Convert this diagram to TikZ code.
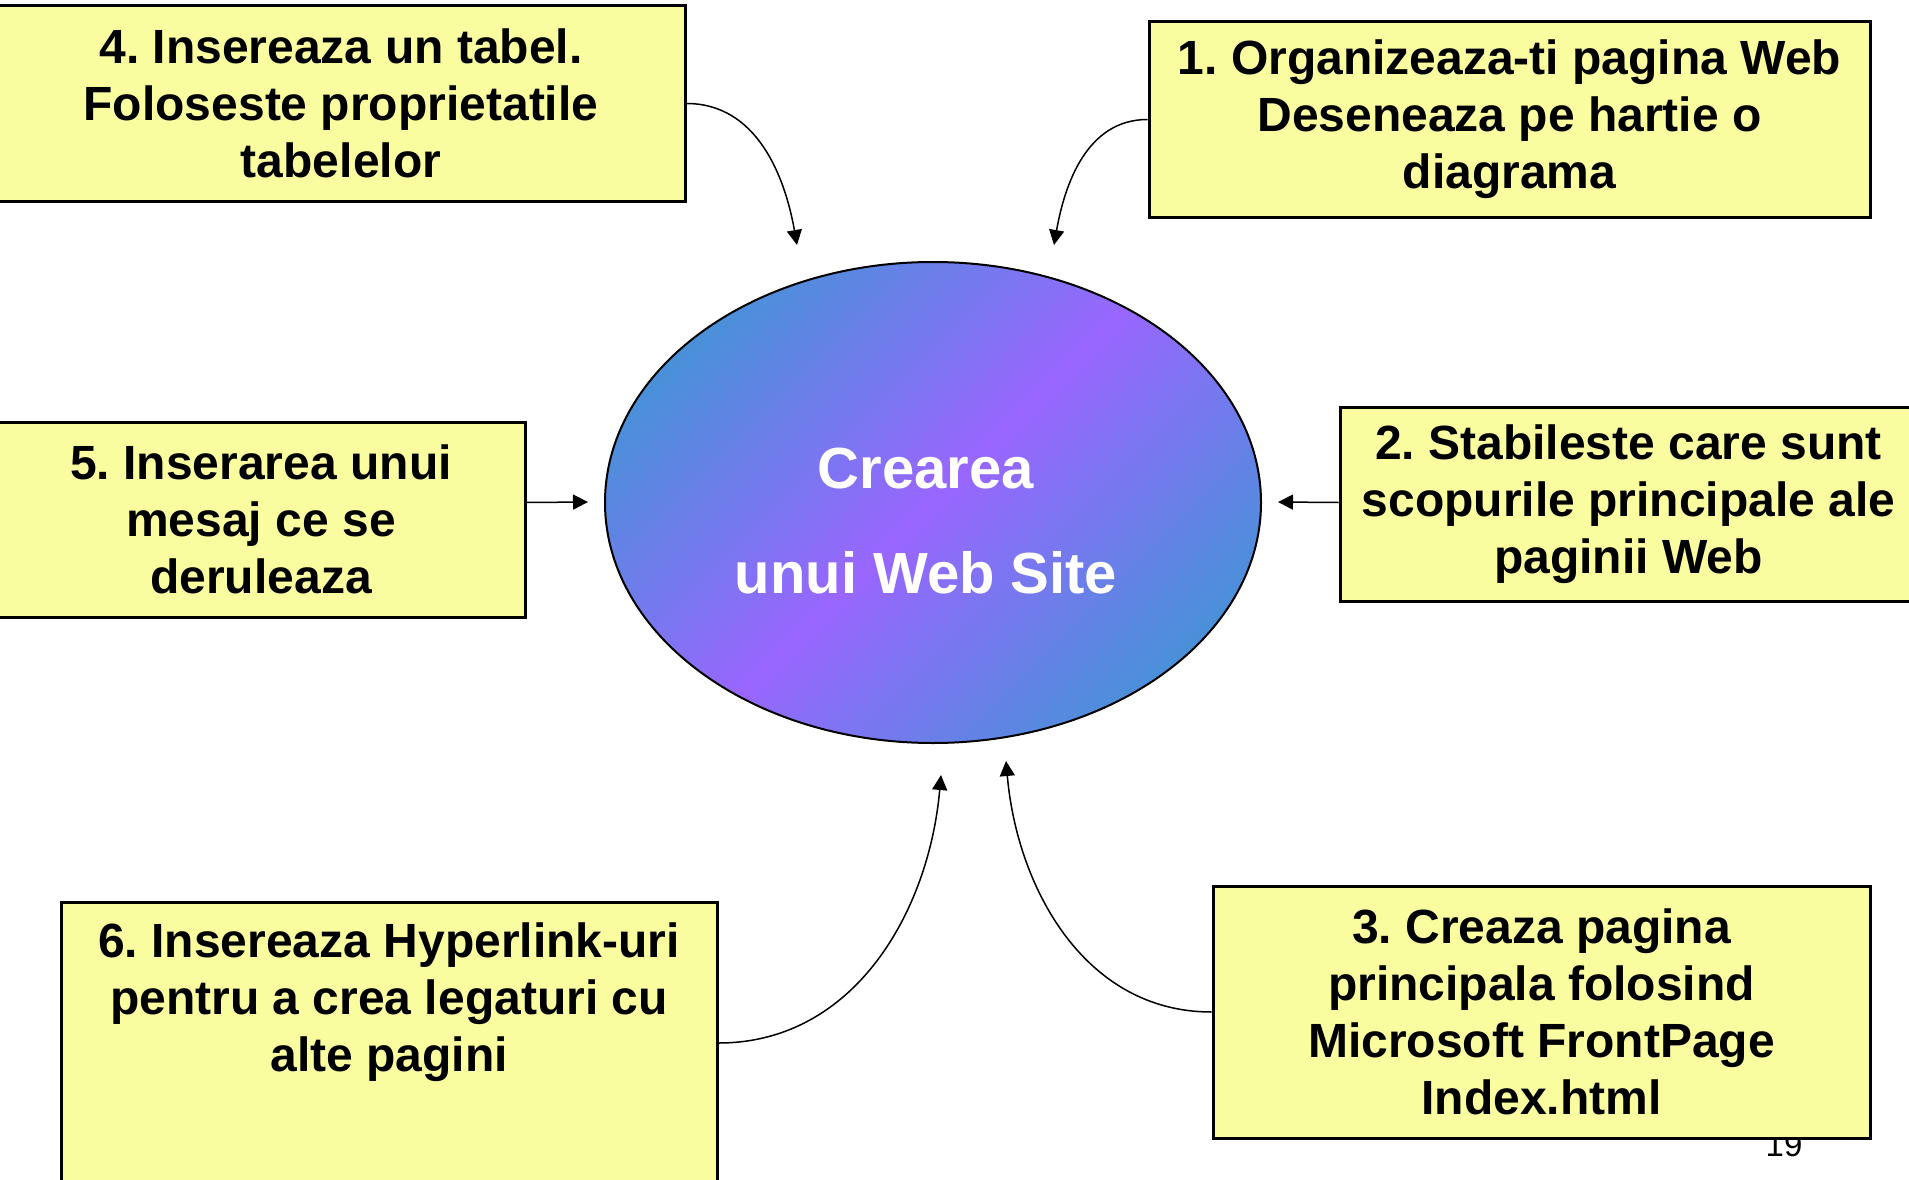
\documentclass[tikz,border=0pt]{standalone}
\usepackage{fontspec}
\setmainfont{Liberation Sans}
\frenchspacing
\usetikzlibrary{arrows.meta, shapes.geometric}
\definecolor{notepad}{RGB}{250,252,160}
\definecolor{hubblue}{RGB}{74,144,217}
\definecolor{hubviolet}{RGB}{153,102,255}

\begin{document}
\begin{tikzpicture}[
  x=1pt, y=1pt,
  font=\fontsize{48}{57}\selectfont\bfseries,
  box/.style={draw, line width=3pt, fill=notepad, align=center, inner sep=0pt},
  hub/.style={ellipse, draw, line width=2pt, inner sep=0pt,
    top color=hubblue, bottom color=hubblue, middle color=hubviolet, shading angle=45},
  hubtext/.style={align=center, text=white, font=\fontsize{58}{105}\selectfont\bfseries},
  flow/.style={-{Triangle[length=15pt, width=15pt]}, line width=1.5pt}
]
\useasboundingbox (0,-1180) rectangle (1909,0);
\node[hub, minimum width=656, minimum height=481] (site) at (933,-502.5) {};
\node[hubtext] (title) at ([shift={(-7,-19)}]site.center) {Crearea\\unui Web Site};
\node[box, minimum width=688, minimum height=195] (step4) at (341,-103.5) {4. Insereaza un tabel.\\Foloseste proprietatile\\tabelelor};
\node[box, minimum width=721, minimum height=195] (step1) at (1509.5,-119.5) {1. Organizeaza-ti pagina Web\\Deseneaza pe hartie o\\diagrama};
\node[box, minimum width=528, minimum height=195] (step5) at (261,-519.5) {5. Inserarea unui\\mesaj ce se\\deruleaza};
\node[box, minimum width=577, minimum height=194] (step2) at (1628.5,-504) {2. Stabileste care sunt\\scopurile principale ale\\paginii Web};
\node[box, minimum width=656, minimum height=282,
  label={[align=center, anchor=north, inner sep=0pt, yshift=-22pt]north:{6. Insereaza Hyperlink-uri\\pentru a crea legaturi cu\\alte pagini}}] (step6) at (389,-1043) {};
\node[font=\fontsize{33}{40}\selectfont\mdseries, anchor=base] (pagenum) at (1784,-1156) {19};
\node[box, minimum width=657, minimum height=252] (step3) at (1541.5,-1012) {3. Creaza pagina\\principala folosind\\Microsoft FrontPage\\Index.html};
\coordinate (tip4) at (797,-245);
\coordinate (tip1) at (1054,-245);
\coordinate (tip5) at (588,-502);
\coordinate (tip2) at (1278,-502);
\coordinate (tip6) at (941,-775);
\coordinate (tip3) at (1006,-761);
\draw[flow] (step4.east) to[out=0, in=100] (tip4);
\draw[flow] (step1.west) to[out=180, in=80] (tip1);
\draw[flow] (step5.east |- site) -- (tip5);
\draw[flow] (step2.west |- site) -- (tip2);
\draw[flow] (step6.east) to[out=0, in=265] (tip6);
\draw[flow] (step3.west) to[out=180, in=275] (tip3);
\end{tikzpicture}
\end{document}
